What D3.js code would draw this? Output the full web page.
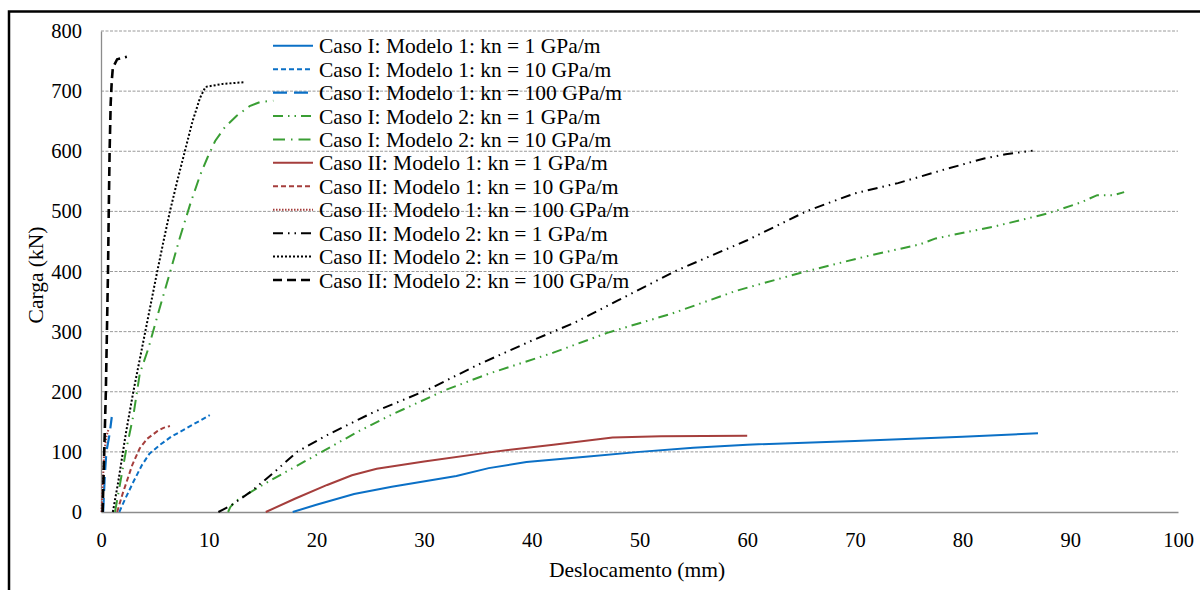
<!DOCTYPE html>
<html>
<head>
<meta charset="utf-8">
<script src="https://cdn.jsdelivr.net/npm/d3@7"></script>
<style>
  body { margin: 0; background: #fff; }
  svg { display: block; }
</style>
</head>
<body>
<svg id="drawing_region"></svg>
<script>
// series labels (legend order)
var seriesNames = [
  'Caso I: Modelo 1: kn = 1 GPa/m',
  'Caso I: Modelo 1: kn = 10 GPa/m',
  'Caso I: Modelo 1: kn = 100 GPa/m',
  'Caso I: Modelo 2: kn = 1 GPa/m',
  'Caso I: Modelo 2: kn = 10 GPa/m',
  'Caso II: Modelo 1: kn = 1 GPa/m',
  'Caso II: Modelo 1: kn = 10 GPa/m',
  'Caso II: Modelo 1: kn = 100 GPa/m',
  'Caso II: Modelo 2: kn = 1 GPa/m',
  'Caso II: Modelo 2: kn = 10 GPa/m',
  'Caso II: Modelo 2: kn = 100 GPa/m'
];

// [deslocamento (mm), carga (kN)]
var c1m1k1 = [[17.8,0],[20,12],[23.5,30],[27,42],[33,60],[36,73],[39.5,83],[45,92],[50,100],[55,107],[60,112],[70,118],[80,125],[87,131]];
var c1m1k10 = [[1.7,0],[2.2,20],[3,50],[3.8,78],[4.5,97],[5.5,112],[6.5,125],[8,140],[10.1,161]];
var c1m1k100 = [[0.2,0],[0.35,60],[0.5,100],[0.8,130],[1.0,158]];
var c1m2k1 = [[11.8,0],[12,8],[12.5,18],[15,45],[18,75],[20.5,100],[24,135],[27,162],[32,203],[36,230],[42,265],[47,298],[53,330],[59,368],[65,398],[71,425],[76,445],[77.5,455],[83,475],[88,497],[91,515],[92.5,527],[94,527],[95,532]];
var c1m2k10 = [[1.3,0],[1.7,40],[2.3,100],[3,160],[3.6,230],[4.4,272],[5.3,330],[6.4,398],[7.3,455],[8.3,513],[9.2,560],[9.9,590],[10.6,617],[11.5,640],[12.6,659],[13.8,675],[14.8,682],[16,684]];
var c2m1k1 = [[15.3,0],[18,22],[21,45],[23.3,61],[25.6,72],[30,84],[36.4,100],[42,112],[47.5,124],[52,126],[60,127]];
var c2m1k10 = [[1.5,0],[2,30],[2.9,78],[3.6,106],[4.3,122],[5.2,134],[5.8,140],[6.4,143]];
var c2m1k100 = [[0.05,0],[0.15,40],[0.3,100],[0.5,125],[0.7,138]];
var c2m2k1 = [[10.9,0],[12,10],[14,35],[16,65],[18.2,100],[21,128],[25.3,166],[30.3,203],[35,245],[40,285],[44,315],[48,352],[53.5,402],[60,452],[65.6,501],[70,530],[74,547],[78,568],[82,588],[84,595],[86.5,601]];
var c2m2k10 = [[1.1,0],[1.6,50],[2.3,130],[3,200],[3.8,272],[4.5,335],[5.2,398],[5.8,450],[6.4,500],[7.1,552],[7.8,601],[8.5,650],[9.2,689],[9.7,707],[11.3,712],[13.4,715]];
var c2m2k100 = [[0.15,0],[0.3,100],[0.45,200],[0.55,300],[0.65,400],[0.72,500],[0.8,600],[0.9,680],[1.0,717],[1.1,739],[1.5,753],[2.4,757]];

var seriesValues = [c1m1k1, c1m1k10, c1m1k100, c1m2k1, c1m2k10, c2m1k1, c2m1k10, c2m1k100, c2m2k1, c2m2k10, c2m2k100];

var xTicks = [0,10,20,30,40,50,60,70,80,90,100];
var yTicks = [0,100,200,300,400,500,600,700,800];

class LineChart {
  constructor( config ) {
    this.config = {
      parent: config.parent,
      width: config.width || 1200,
      height: config.height || 590
    };
    this.init();
  }

  init() {
    let self = this;
    self.svg = d3.select(self.config.parent)
        .attr('width', self.config.width)
        .attr('height', self.config.height);

    self.x = d3.scaleLinear().domain([0, 100]).range([101, 1178]);
    self.y = d3.scaleLinear().domain([0, 800]).range([512, 31]);

    const blue = '#0b70c6', green = '#3a9e34', red = '#a53e3c', black = '#000';
    // stroke colour, dash array, width per series
    self.styles = [
      {c: blue,  d: null,            w: 2},
      {c: blue,  d: '5,3',           w: 2},
      {c: blue,  d: '14,7',          w: 2.2},
      {c: green, d: '10,5,1.5,5,1.5,5', w: 2},
      {c: green, d: '12,6,1.5,6',    w: 2},
      {c: red,   d: null,            w: 2},
      {c: red,   d: '5,3',           w: 2},
      {c: red,   d: '1.5,1.5',       w: 2},
      {c: black, d: '10,5,1.5,5,1.5,5', w: 2},
      {c: black, d: '2,2',           w: 2},
      {c: black, d: '9,5',           w: 2.6}
    ];
  }

  update() {
    let self = this;
    self.line = d3.line()
        .x(d => self.x(d[0]))
        .y(d => self.y(d[1]));
    self.render();
  }

  render() {
    let self = this;
    const font = '"Liberation Serif", "Times New Roman", serif';

    // grid
    self.svg.append('g')
        .selectAll('line')
        .data(yTicks.filter(v => v > 0))
        .enter()
        .append('line')
        .attr('x1', self.x(0)).attr('x2', self.x(100))
        .attr('y1', d => self.y(d)).attr('y2', d => self.y(d))
        .attr('stroke', '#9a9a9a')
        .attr('stroke-width', 1)
        .attr('stroke-dasharray', '3,1.5');

    // axes
    const yAxis = d3.axisLeft(self.y).tickValues(yTicks).tickSize(0).tickPadding(19);
    const xAxis = d3.axisBottom(self.x).tickValues(xTicks).tickSize(0).tickPadding(20);

    const gy = self.svg.append('g')
        .attr('transform', `translate(${self.x(0)},0)`)
        .call(yAxis);
    const gx = self.svg.append('g')
        .attr('transform', `translate(0,${self.y(0)})`)
        .call(xAxis);

    [gx, gy].forEach(g => {
      g.select('.domain').attr('stroke', '#8c8c8c').attr('stroke-width', 1.3);
      g.selectAll('text')
          .attr('font-family', font)
          .attr('font-size', 20.5)
          .attr('fill', '#000');
    });

    // series
    self.svg.append('g')
        .selectAll('path')
        .data(seriesValues)
        .enter()
        .append('path')
        .attr('d', self.line)
        .attr('fill', 'none')
        .attr('stroke', (d, i) => self.styles[i].c)
        .attr('stroke-width', (d, i) => self.styles[i].w)
        .attr('stroke-dasharray', (d, i) => self.styles[i].d);

    // legend
    const legend = self.svg.append('g')
        .selectAll('g')
        .data(seriesNames)
        .enter()
        .append('g')
        .attr('transform', (d, i) => `translate(273,${45.7 + i * 23.43})`);
    legend.append('line')
        .attr('x1', 0).attr('x2', 40)
        .attr('stroke', (d, i) => self.styles[i].c)
        .attr('stroke-width', (d, i) => self.styles[i].w)
        .attr('stroke-dasharray', (d, i) => self.styles[i].d);
    legend.append('text')
        .attr('x', 46)
        .attr('dy', '0.35em')
        .attr('font-family', font)
        .attr('font-size', 21.5)
        .attr('fill', '#000')
        .text(d => d);

    // axis titles
    self.svg.append('text')
        .attr('transform', `translate(43,275) rotate(-90)`)
        .attr('text-anchor', 'middle')
        .attr('font-family', font)
        .attr('font-size', 21.5)
        .text('Carga (kN)');
    self.svg.append('text')
        .attr('x', 637).attr('y', 577)
        .attr('text-anchor', 'middle')
        .attr('font-family', font)
        .attr('font-size', 21.5)
        .text('Deslocamento (mm)');

    // frame
    self.svg.append('rect')
        .attr('x', 9).attr('y', 11.5)
        .attr('width', 1300).attr('height', 700)
        .attr('fill', 'none')
        .attr('stroke', '#000')
        .attr('stroke-width', 2.5);
  }
}

const chart = new LineChart({ parent: '#drawing_region', width: 1200, height: 590 });
chart.update();
</script>
</body>
</html>
